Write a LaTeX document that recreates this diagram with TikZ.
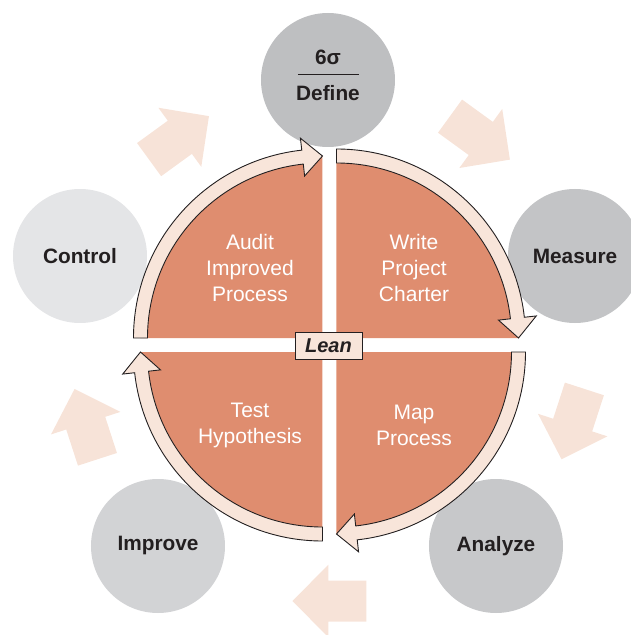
\documentclass[tikz,border=0pt]{standalone}
\usepackage{fontspec}
\setmainfont{Liberation Sans}
\begin{document}
\begin{tikzpicture}[x=1pt,y=1pt]
\definecolor{orangec}{RGB}{223,141,111}
\definecolor{bandc}{RGB}{248,229,218}
\definecolor{peach}{RGB}{247,227,216}
\definecolor{gDefine}{RGB}{190,191,193}
\definecolor{gMeasure}{RGB}{195,196,198}
\definecolor{gAnalyze}{RGB}{199,200,202}
\definecolor{gImprove}{RGB}{210,211,213}
\definecolor{gControl}{RGB}{228,229,231}
\definecolor{txt}{RGB}{35,31,32}
\tikzset{
  circ/.style={circle, minimum size=134pt, inner sep=0pt, draw=none, text=txt,
    font=\fontsize{20.8}{25}\selectfont\bfseries},
  bigarrow/.style={fill=peach, draw=none},
  band/.style={fill=bandc, draw=txt, line width=0.9pt, line join=miter},
  quadtext/.style={text=white, align=center, font=\fontsize{21}{26}\selectfont},
  leanbox/.style={fill=bandc, draw=txt, line width=0.9pt, minimum width=67pt,
    minimum height=27pt, inner sep=0pt, text=txt,
    font=\fontsize{20}{24}\selectfont\bfseries\itshape}
}
\useasboundingbox (-329.5,-290) rectangle (300.5,345);
% big peach arrows
\foreach \a in {126,54,-18,-90,-162} {
  \path[bigarrow, shift={(\a:256)}, rotate=\a-90]
    (-37,-20.5) -- (1,-20.5) -- (1,-36.5) -- (37,0) -- (1,36.5) -- (1,20.5) -- (-37,20.5) -- cycle;
}
% circles
\node[circ, fill=gDefine] (define) at (-1.5,265) {};
\node[circ, fill=gMeasure] (measure) at (245.5,89) {Measure};
\node[circ, fill=gAnalyze] (analyze) at (166.5,-201) {Analyze};
\node[circ, fill=gImprove] (improve) at (-171.5,-201) {Improve};
\node[circ, fill=gControl] (control) at (-249.5,89) {Control};
\node[text=txt, font=\fontsize{20.8}{25}\selectfont\bfseries] (sigma) at (-1.5,288) {6σ};
\node[text=txt, font=\fontsize{20.8}{25}\selectfont\bfseries] (deftext) at (-1.5,252) {Define};
\coordinate (fl) at (-31.5,270);
\coordinate (fr) at (29.5,270);
\draw[txt, line width=1pt] (fl) -- (fr);
% quadrants and ring arrows
\foreach \ox/\oy/\s/\e/\h in {-7/7/180/90/96.3, 7/7/90/0/6.3, 7/-7/0/-90/-83.7, -7/-7/-90/-180/-173.7} {
  \begin{scope}[shift={(\ox,\oy)}]
    \fill[orangec] (0,0) -- (\e:182) arc[start angle=\e, end angle=\s, radius=182] -- cycle;
    \path[band] (\s:189) arc[start angle=\s, end angle=\h, radius=189]
      -- (\h:201) -- (\e:182) -- (\h:163) -- (\h:175)
      arc[start angle=\h, end angle=\s, radius=175] -- cycle;
  \end{scope}
}
\node[quadtext] (audit) at (-79.5,77) {Audit\\Improved\\Process};
\node[quadtext] (write) at (84.5,77) {Write\\Project\\Charter};
\node[quadtext] (test) at (-79.5,-80) {Test\\Hypothesis};
\node[quadtext] (map) at (84.5,-80) {Map\\Process};
\node[leanbox] (lean) at (-1,-0.5) {Lean};
\end{tikzpicture}
\end{document}
